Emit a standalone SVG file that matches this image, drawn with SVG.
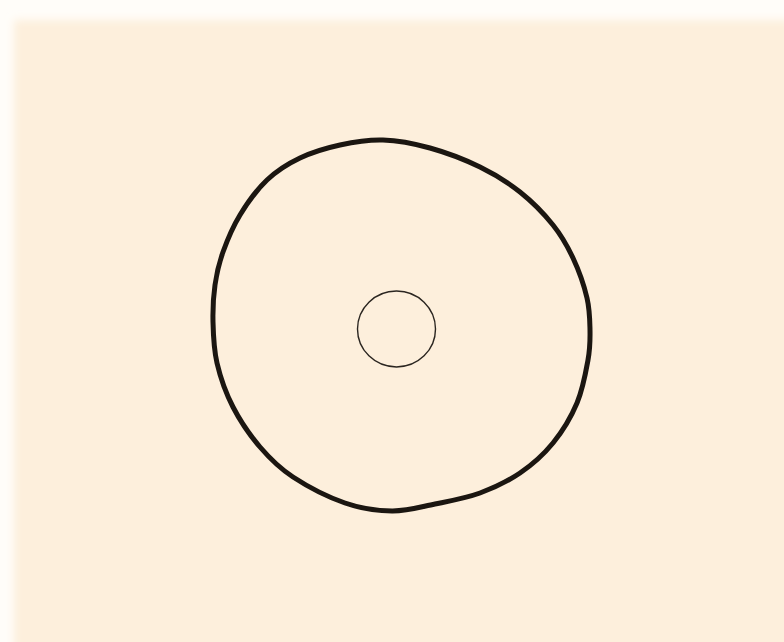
<svg xmlns="http://www.w3.org/2000/svg" width="784" height="642" viewBox="0 0 784 642">
<defs>
<filter id="soft" x="-5%" y="-5%" width="110%" height="110%"><feGaussianBlur stdDeviation="4"/></filter>
<style>
.outer{fill:none;stroke:#1b1611;stroke-width:5;stroke-linejoin:round}
.inner{fill:none;stroke:#2a2520;stroke-width:1.4}
</style>
</defs>
<rect x="0" y="0" width="784" height="642" fill="#fffdf9"/>
<rect x="14" y="20" width="800" height="650" fill="#fdefdc" filter="url(#soft)"/>
<g id="outer-ring">
<path class="outer" d="M383,140 C398,140.5 413.8,143.5 430,148 C446.2,152.5 465,159.7 480,167 C495,174.3 507.8,182.3 520,192 C532.2,201.7 544.2,214 553,225 C561.8,236 567.3,245.8 573,258 C578.7,270.2 584.2,286 587,298 C589.8,310 589.8,319.7 590,330 C590.2,340.3 590.2,347.8 588,360 C585.8,372.2 582.8,389.2 577,403 C571.2,416.8 562.5,431.3 553,443 C543.5,454.7 532.2,464.7 520,473 C507.8,481.3 494.2,487.8 480,493 C465.8,498.2 449.7,501 435,504 C420.3,507 407,511.2 392,511 C377,510.8 361.5,508.7 345,503 C328.5,497.3 307.2,486.3 293,477 C278.8,467.7 270,458.7 260,447 C250,435.3 240.2,421 233,407 C225.8,393 220.3,377.2 217,363 C213.7,348.8 213.3,335 213,322 C212.7,309 213.3,296.7 215,285 C216.7,273.3 218.8,263.7 223,252 C227.2,240.3 232.7,227 240,215 C247.3,203 257,189.5 267,180 C277,170.5 287.8,163.8 300,158 C312.2,152.2 326.2,148 340,145 C353.8,142 368,139.5 383,140 Z"/>
</g>
<g id="inner-circle">
<ellipse class="inner" cx="396.5" cy="329" rx="39" ry="38"/>
</g>
</svg>
